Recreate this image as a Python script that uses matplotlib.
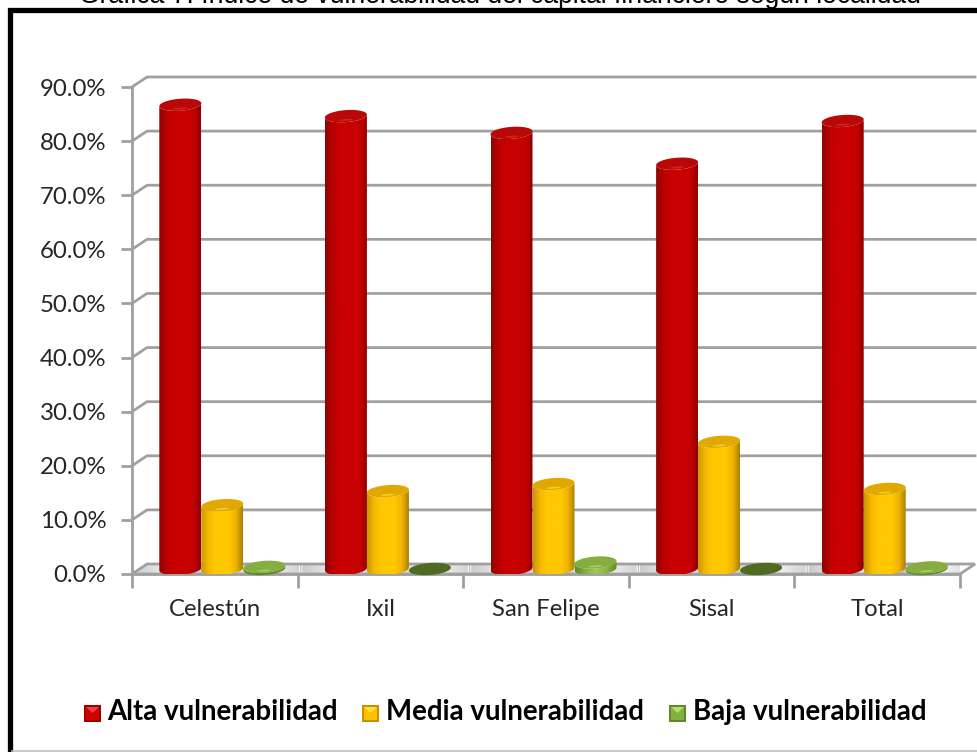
import numpy as np
import matplotlib
matplotlib.use("Agg")
import matplotlib.pyplot as plt
from matplotlib.colors import LinearSegmentedColormap
from matplotlib.patches import Polygon

# datos
localidades = ["Celestún", "Ixil", "San Felipe", "Sisal", "Total"]
alta = [85.8, 83.7, 80.6, 74.9, 82.8]
media = [11.8, 14.4, 15.7, 23.5, 14.8]
baja = [0.4, 0.0, 1.2, 0.0, 0.3]
series = ["Alta vulnerabilidad", "Media vulnerabilidad", "Baja vulnerabilidad"]
yticks = [0, 10, 20, 30, 40, 50, 60, 70, 80, 90]
titulo = "Gráfica 7. Índice de vulnerabilidad del capital financiero según localidad"

W, H = 977, 752
GRIS = "#a0a0a0"
TXT = "#262626"
FUENTE = "Lato"

fig = plt.figure(figsize=(W / 100, H / 100), dpi=100, facecolor="white")
ax = fig.add_axes([132 / W, 1 - 574 / H, (960 - 132) / W, (574 - 87) / H])
ax.patch.set_visible(False)

# profundidad del piso en unidades de datos
px_x = 5 / (960 - 132)
px_y = 90 / (574 - 87)
dx = 15 * px_x
dy = 10 * px_y
ancho = 42 * px_x
ry = 6 * px_y
base = 5 * px_y
incl = 0.07 * px_y / px_x

mapas = [
    LinearSegmentedColormap.from_list("r", ["#8c0606", "#b80000", "#c80000", "#c80000", "#c80000", "#c40000", "#8c0000"]),
    LinearSegmentedColormap.from_list("y", ["#c89600", "#f4b800", "#ffc800", "#ffc800", "#ffc800", "#f0b400", "#a88000"]),
    LinearSegmentedColormap.from_list("g", ["#5f8a2a", "#86b03e", "#a0c858", "#8db544", "#5f8a2a"]),
]
tapas = ["#b80808", "#e0a800", "#86ad40"]
brillos = ["#d82020", "#f4cc20", "#a4cc60"]
ramp = np.linspace(0, 1, 128).reshape(1, -1)


def elipse(cx, cy, a, b, t):
    xx = cx + a * np.cos(t)
    yy = cy + b * np.sin(t) + incl * (xx - cx)
    return np.column_stack([xx, yy])


def cilindro(cx, valor, j, z):
    t1 = np.linspace(np.pi, 2 * np.pi, 40)
    t2 = np.linspace(0, 2 * np.pi, 80)
    alto = base + valor
    if valor > 0.9:
        cuerpo = np.vstack([elipse(cx, base, ancho / 2, ry, t1),
                            elipse(cx, alto, ancho / 2, ry, t1[::-1])])
        pp = Polygon(cuerpo, closed=True, fc="none", ec="none", zorder=z, clip_on=False)
        ax.add_patch(pp)
        im = ax.imshow(ramp, cmap=mapas[j], aspect="auto", zorder=z, interpolation="bilinear",
                       extent=[cx - ancho / 2, cx + ancho / 2, base - 3 * ry, alto + 3 * ry])
        im.set_clip_path(pp)
    elif valor > 0:
        cuerpo = np.vstack([elipse(cx, base, ancho / 2, ry, t1),
                            elipse(cx, alto, ancho / 2, ry, t1[::-1])])
        ax.add_patch(Polygon(cuerpo, closed=True, fc="#5f8a2a", ec="none", zorder=z, clip_on=False))
    color = tapas[j] if valor > 0 else "#4f6b22"
    ax.add_patch(Polygon(elipse(cx, alto, ancho / 2, ry, t2), closed=True, fc=color, ec="none",
                         zorder=z + 0.1, clip_on=False))
    if valor > 0:
        ax.add_patch(Polygon(elipse(cx, alto - 0.62 * ry, ancho / 6, ry * 0.16, t2), closed=True,
                             fc=brillos[j], ec="none", zorder=z + 0.2, clip_on=False))


# piso con brillo
esquinas = np.array([[0, 0], [5, 0], [5 + dx, dy], [dx, dy]])
piso = Polygon(esquinas, closed=True, fc="none", ec=GRIS, lw=2, zorder=2, clip_on=False)
ax.add_patch(piso)
brillo = LinearSegmentedColormap.from_list("p", ["#cccccc", "#f6f6f6", "#b8b8b8", "#ffffff", "#d4d4d4"])
fondo = ax.imshow(np.tile(np.linspace(0, 1, 40), 5).reshape(1, -1), cmap=brillo, aspect="auto",
                  zorder=1.5, extent=[0, 5 + dx, 0, dy], interpolation="bilinear")
fondo.set_clip_path(piso)

# rejilla de la pared y lineas laterales
for v in yticks[1:]:
    ax.plot([0, dx, 5 + dx], [v, v + dy, v + dy], color=GRIS, lw=2, zorder=1, clip_on=False)

z = 3
for i in range(len(localidades)):
    for j, vals in enumerate([alta, media, baja]):
        cilindro(i + 0.5 + dx / 2 + (j - 1) * ancho, vals[i], j, z)
        z += 1

ax.set_xlim(0, 5)
ax.set_ylim(0, 90)
ax.set_yticks(yticks)
ax.set_yticklabels([f"{v:.1f}%" for v in yticks], fontsize=17.3, color=TXT, family=FUENTE)
ax.set_xticks(range(6))
ax.set_xticklabels([])
ax.set_xticks(np.arange(5) + 0.5, minor=True)
ax.set_xticklabels(localidades, minor=True, fontsize=17.2, color=TXT, family=FUENTE)
ax.tick_params(axis="y", length=8, width=2, color=GRIS, pad=10.5)
ax.tick_params(axis="x", which="major", length=10, width=2, color=GRIS)
ax.tick_params(axis="x", which="minor", length=0, pad=18)
for lado in ["top", "right"]:
    ax.spines[lado].set_visible(False)
for lado in ["left", "bottom"]:
    ax.spines[lado].set_color(GRIS)
    ax.spines[lado].set_linewidth(2)

# capa en pixeles: marco, titulo y leyenda
capa = fig.add_axes([0, 0, 1, 1], zorder=5)
capa.set_xlim(0, W)
capa.set_ylim(H, 0)
capa.axis("off")
capa.plot([9.5, 9.5, W], [H, 9.5, 9.5], color="black", lw=3.8, solid_joinstyle="miter")
capa.plot([12, W], [H - 1, H - 1], color="#c0c0c0", lw=1.2)
capa.text(500, 3, titulo, family="Liberation Sans", fontsize=19.1, color="black", ha="center", va="baseline")

cuadros = [84, 362, 669]
textos = [107, 386, 693]
claros = ["#f04040", "#ffe040", "#b8dc70"]
oscuros = ["#a00000", "#c89000", "#5f8a2a"]
medios = ["#d00000", "#ffc000", "#86b03e"]
for k, nombre in enumerate(series):
    x0 = cuadros[k]
    capa.add_patch(Polygon([[x0, 705], [x0 + 17, 705], [x0 + 17, 722], [x0, 722]], closed=True, fc=oscuros[k], ec="none"))
    capa.add_patch(Polygon([[x0 + 2, 707], [x0 + 15, 707], [x0 + 15, 720], [x0 + 2, 720]], closed=True, fc=medios[k], ec="none"))
    capa.add_patch(Polygon([[x0 + 2, 707], [x0 + 15, 707], [x0 + 8.5, 713]], closed=True, fc=claros[k], ec="none"))
    capa.text(textos[k], 712, nombre, family=FUENTE, fontweight="bold", fontsize=19.9, color="black", ha="left", va="center")

fig.savefig("out.png", dpi=100)
